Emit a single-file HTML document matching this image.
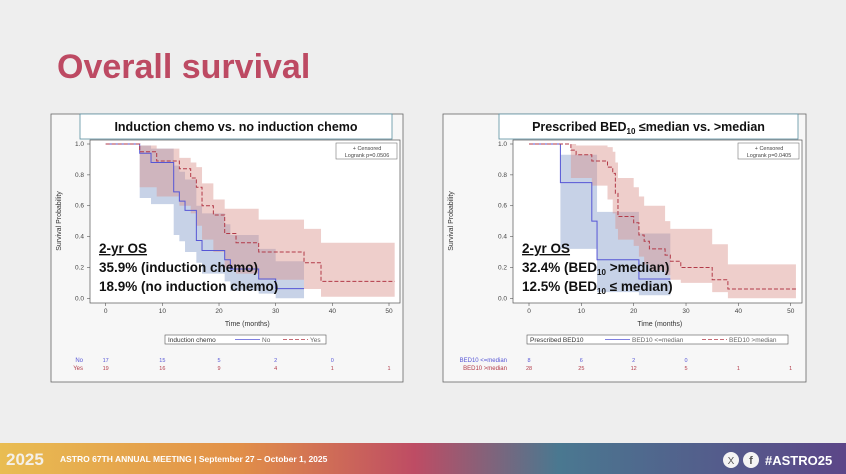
<!DOCTYPE html>
<html><head><meta charset="utf-8">
<style>
html,body{margin:0;padding:0;width:846px;height:474px;overflow:hidden;background:#eeeeee;font-family:"Liberation Sans",sans-serif}
svg text{font-family:"Liberation Sans",sans-serif}
</style></head>
<body>
<svg id="slide" width="846" height="474" viewBox="0 0 846 474" xmlns="http://www.w3.org/2000/svg">
<defs>
<linearGradient id="fg" x1="0" x2="1" y1="0" y2="0">
<stop offset="0" stop-color="#e9bd52"/><stop offset="0.28" stop-color="#e29048"/>
<stop offset="0.49" stop-color="#be4c64"/><stop offset="0.66" stop-color="#4a7890"/>
<stop offset="1" stop-color="#5c4688"/></linearGradient>
</defs>
<text x="57" y="78" font-size="34" font-weight="bold" fill="#bd4a63">Overall survival</text>
<g id="charts"></g>
<rect x="0" y="443" width="846" height="31" fill="url(#fg)"/>
<text x="6" y="465" font-size="17" font-weight="bold" fill="#f4f0e8">2025</text>
<text x="60" y="462" font-size="8.5" font-weight="bold" fill="#fff">ASTRO 67TH ANNUAL MEETING  |  September 27 – October 1, 2025</text>
<circle cx="731" cy="460" r="8" fill="#f4f4f4"/>
<text x="731" y="464" font-size="10" text-anchor="middle" fill="#555">X</text>
<circle cx="751" cy="460" r="8" fill="#f4f4f4"/>
<text x="751" y="464" font-size="11" font-weight="bold" text-anchor="middle" fill="#555">f</text>
<text x="765" y="465" font-size="13" font-weight="bold" fill="#fff">#ASTRO25</text>
</svg>
<script>
// ---- Left chart data ----
const L_noT = [0,6,8,12,13,14,16,17,21,22,27,30];
const L_noS = [1,0.94,0.88,0.69,0.63,0.57,0.375,0.31,0.25,0.19,0.125,0.0625];
const L_noLo = [1,0.65,0.61,0.41,0.37,0.30,0.23,0.16,0.11,0.05,0.03,0.0];
const L_noHi = [1,0.99,0.97,0.86,0.82,0.77,0.60,0.55,0.48,0.41,0.32,0.24];
const L_noEnd = 35;
const L_yesT = [0,6,9,13,15,16,17,19,21,23,27,35,38];
const L_yesS = [1,0.95,0.89,0.84,0.78,0.72,0.60,0.54,0.42,0.36,0.30,0.23,0.11];
const L_yesLo = [1,0.72,0.66,0.60,0.55,0.47,0.38,0.30,0.20,0.16,0.12,0.06,0.01];
const L_yesHi = [1,0.99,0.97,0.91,0.88,0.85,0.745,0.64,0.58,0.58,0.51,0.45,0.36];
const L_yesEnd = 51;
const L_riskNo = [17,15,5,2,0];
const L_riskYes = [19,16,9,4,1,1];
// ---- Right chart data ----
const R_loT = [0,6,12,13,21];
const R_loS = [1,0.75,0.5,0.25,0.125];
const R_loLo = [1,0.32,0.32,0.04,0.02];
const R_loHi = [1,0.93,0.93,0.56,0.42];
const R_loEnd = 27;
const R_hiT = [0,8,9,12,15,16,16.5,17,20,21,22,23,26,27,29,35,38];
const R_hiS = [1,0.96,0.93,0.89,0.85,0.81,0.68,0.53,0.49,0.41,0.37,0.32,0.28,0.24,0.20,0.12,0.06];
const R_hiLo = [1,0.78,0.78,0.73,0.64,0.55,0.45,0.38,0.34,0.27,0.22,0.18,0.15,0.12,0.10,0.04,0.0];
const R_hiHi = [1,1,0.99,0.99,0.98,0.95,0.88,0.78,0.72,0.66,0.6,0.6,0.5,0.45,0.45,0.35,0.22];
const R_hiEnd = 51;
const R_riskLo = [8,6,2,0];
const R_riskHi = [28,25,12,5,1,1];
const xTicks = [0,10,20,30,40,50];
const yTicks = [0,0.2,0.4,0.6,0.8,1.0];

const NS='http://www.w3.org/2000/svg';
const root=document.getElementById('charts');
function mk(tag,attrs,parent,txt){const e=document.createElementNS(NS,tag);for(const k in attrs)e.setAttribute(k,attrs[k]);if(txt!==undefined)e.textContent=txt;(parent||root).appendChild(e);return e;}

function stepPath(T,S,end,sx,sy){let d='M'+sx(T[0])+','+sy(S[0]);for(let i=0;i<T.length;i++){if(i>0)d+='V'+sy(S[i]);const nx=i<T.length-1?T[i+1]:end;d+='H'+sx(nx);}return d;}
function bandPath(T,Lo,Hi,end,sx,sy){let up='',i;let pts=[];for(i=0;i<T.length;i++){const nx=i<T.length-1?T[i+1]:end;pts.push([sx(T[i]),sy(Hi[i])],[sx(nx),sy(Hi[i])]);}
 let lo=[];for(i=T.length-1;i>=0;i--){const nx=i<T.length-1?T[i+1]:end;lo.push([sx(nx),sy(Lo[i])],[sx(T[i]),sy(Lo[i])]);}
 return 'M'+pts.concat(lo).map(p=>p.join(',')).join('L')+'Z';}

function chart(o){
 const g=mk('g',{});
 
 
 const p=mk('rect',{x:o.px,y:114,width:o.pw,height:268,fill:'#f7f7f7',stroke:'#666','stroke-width':0.8},g);
 
 
 const sx=t=>o.x0+(o.x50-o.x0)*t/50, sy=v=>298.3-154.3*v;
 const pa=mk('rect',{x:o.ax,y:140,width:o.aw,height:163,fill:'#fff',stroke:'#555','stroke-width':0.7},g);
 
 
 const b1=mk('path',{d:bandPath(o.aT,o.aLo,o.aHi,o.aEnd,sx,sy),fill:'#8fa6cf','fill-opacity':0.5},g);
 
 
 const b2=mk('path',{d:bandPath(o.bT,o.bLo,o.bHi,o.bEnd,sx,sy),fill:'#d9938c','fill-opacity':0.45},g);
 
 
 const l1=mk('path',{d:stepPath(o.aT,o.aS,o.aEnd,sx,sy),fill:'none',stroke:'#5656d6','stroke-width':1},g);
 
 
 const l2=mk('path',{d:stepPath(o.bT,o.bS,o.bEnd,sx,sy),fill:'none',stroke:'#b23a48','stroke-width':1,'stroke-dasharray':'4,2'},g);
 
 
 xTicks.forEach(t=>{const e=mk('text',{x:sx(t),y:313,'font-size':6.5,'text-anchor':'middle',fill:'#444'},g,String(t));
  
  
  mk('line',{x1:sx(t),x2:sx(t),y1:303,y2:306,stroke:'#555','stroke-width':0.6},g);});
 yTicks.forEach(v=>{const e=mk('text',{x:o.ax-6,y:sy(v)+2,'font-size':6.5,'text-anchor':'end',fill:'#444'},g,v.toFixed(1));
  
  
  mk('line',{x1:o.ax-3,x2:o.ax,y1:sy(v),y2:sy(v),stroke:'#555','stroke-width':0.6},g);});
 const xt=mk('text',{x:(o.x0+o.x50)/2,y:326,'font-size':7,'text-anchor':'middle',fill:'#333'},g,'Time (months)');
 
 
 const yt=mk('text',{x:0,y:0,'font-size':7,'text-anchor':'middle',fill:'#333',transform:'translate('+(o.px+10)+',221) rotate(-90)'},g,'Survival Probability');
 
 
 // title box
 const tb=mk('rect',{x:o.tx,y:114,width:o.tw,height:25,fill:'#fff',stroke:'#5a8fa0','stroke-width':0.8},g);
 
 
 const tt=mk('text',{x:o.tx+o.tw/2,y:131,'font-size':12.5,'font-weight':'bold','text-anchor':'middle',fill:'#111'},g);
 tt.innerHTML=o.title;
 
 
 // censored box
 const cb=mk('rect',{x:o.ax+o.aw-64,y:143,width:61,height:16,fill:'#fff',stroke:'#777','stroke-width':0.6},g);
 
 
 mk('text',{x:o.ax+o.aw-33,y:150,'font-size':5.5,'text-anchor':'middle',fill:'#444'},g,'+ Censored');
 mk('text',{x:o.ax+o.aw-33,y:157,'font-size':5.5,'text-anchor':'middle',fill:'#444'},g,o.p);
 // legend
 const lg=mk('rect',{x:o.lx,y:335,width:o.lw,height:9,fill:'#fff',stroke:'#555','stroke-width':0.6},g);
 
 
 mk('text',{x:o.lx+3,y:342,'font-size':6.5,fill:'#333'},g,o.legTitle);
 mk('line',{x1:o.l1x,x2:o.l1x+25,y1:339.5,y2:339.5,stroke:'#5656d6','stroke-width':0.8},g);
 mk('text',{x:o.l1x+27,y:342,'font-size':6.5,fill:'#666'},g,o.leg1);
 mk('line',{x1:o.l2x,x2:o.l2x+25,y1:339.5,y2:339.5,stroke:'#b23a48','stroke-width':0.8,'stroke-dasharray':'4,2'},g);
 mk('text',{x:o.l2x+27,y:342,'font-size':6.5,fill:'#666'},g,o.leg2);
 // at-risk
 mk('text',{x:o.rlx,y:362,'font-size':6,'text-anchor':'end',fill:'#5656d6'},g,o.r1);
 mk('text',{x:o.rlx,y:370,'font-size':6,'text-anchor':'end',fill:'#b23a48'},g,o.r2);
 o.risk1.forEach((n,i)=>{const e=mk('text',{x:sx(xTicks[i]),y:362,'font-size':5.5,'text-anchor':'middle',fill:'#5656d6'},g,String(n));
  
  });
 o.risk2.forEach((n,i)=>{const e=mk('text',{x:sx(xTicks[i]),y:370,'font-size':5.5,'text-anchor':'middle',fill:'#b23a48'},g,String(n));
  
  });
 // overlay
 const ov=mk('g',{},g);
 
 
 o.ov.forEach((s,i)=>{const e=mk('text',{x:o.ovx,y:253+i*19,'font-size':13.5,'font-weight':'bold',fill:'#111'},ov);e.innerHTML=s;});
}

chart({name:'induction-chemo-km-chart',px:51,pw:352,ax:90,aw:310,x0:105.7,x50:389,tx:80,tw:312,
 title:'Induction chemo vs. no induction chemo',p:'Logrank p=0.0506',
 aT:L_noT,aS:L_noS,aLo:L_noLo,aHi:L_noHi,aEnd:L_noEnd,bT:L_yesT,bS:L_yesS,bLo:L_yesLo,bHi:L_yesHi,bEnd:L_yesEnd,
 lx:165,lw:161,legTitle:'Induction chemo',l1x:235,leg1:'No',l2x:283,leg2:'Yes',
 rlx:83,r1:'No',r2:'Yes',risk1:L_riskNo,risk2:L_riskYes,
 ovx:99,ov:['<tspan text-decoration="underline">2-yr OS</tspan>','35.9% (induction chemo)','18.9% (no induction chemo)']});

chart({name:'bed10-km-chart',px:443,pw:363,ax:513,aw:289,x0:529,x50:790.7,tx:499,tw:299,
 title:'Prescribed BED<tspan font-size="8" dy="3">10</tspan><tspan dy="-3"> ≤median vs. &gt;median</tspan>',p:'Logrank p=0.0405',
 aT:R_loT,aS:R_loS,aLo:R_loLo,aHi:R_loHi,aEnd:R_loEnd,bT:R_hiT,bS:R_hiS,bLo:R_hiLo,bHi:R_hiHi,bEnd:R_hiEnd,
 lx:527,lw:261,legTitle:'Prescribed BED10',l1x:605,leg1:'BED10 <=median',l2x:702,leg2:'BED10 >median',
 rlx:507,r1:'BED10 <=median',r2:'BED10 >median',risk1:R_riskLo,risk2:R_riskHi,
 ovx:522,ov:['<tspan text-decoration="underline">2-yr OS</tspan>','32.4% (BED<tspan font-size="8" dy="3">10</tspan><tspan dy="-3"> &gt;median)</tspan>','12.5% (BED<tspan font-size="8" dy="3">10</tspan><tspan dy="-3"> ≤ median)</tspan>']});
</script>
</body></html>
